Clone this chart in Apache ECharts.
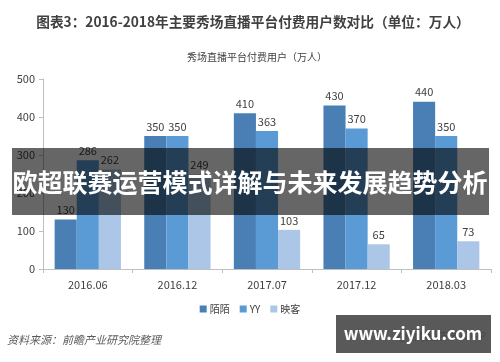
<!DOCTYPE html>
<html><head><meta charset="utf-8">
<script src="https://cdn.jsdelivr.net/npm/echarts@6/dist/echarts.min.js"></script>
<style>html,body{margin:0;padding:0;background:#fff}#c{width:500px;height:362px}</style>
</head><body><div id="c"></div>
<script>
const categories = ['2016.06','2016.12','2017.07','2017.12','2018.03'];
const momo = [130,350,410,430,440];
const yy = [286,350,363,370,350];
const yingke = [262,249,103,65,73];
const seriesNames = ['陌陌','YY','映客'];
const yTicks = [0,100,200,300,400,500];

const chart = echarts.init(document.getElementById('c'));
const font = 'Noto Sans CJK SC, sans-serif';
const lbl = {show:true, position:'top', color:'#404040', fontSize:11, fontFamily:font, distance:4};
chart.setOption({
  animation:false,
  textStyle:{fontFamily:font},
  title:[
    {text:'图表3：2016-2018年主要秀场直播平台付费用户数对比（单位：万人）', left:248, top:10, textAlign:'center',
     textStyle:{fontSize:13.7, fontWeight:'bold', color:'#404040', fontFamily:font}},
    {text:'秀场直播平台付费用户（万人）', left:252, top:47, textAlign:'center',
     textStyle:{fontSize:10, fontWeight:'normal', color:'#404040', fontFamily:font}}
  ],
  legend:{data:seriesNames, bottom:43, left:'center', itemWidth:7, itemHeight:7, itemGap:10,
    icon:'rect', textStyle:{fontSize:10, color:'#404040', fontFamily:font, padding:[0,0,0,-2]}},
  grid:{left:43, right:9, top:79, bottom:93},
  xAxis:{type:'category', data:categories,
    axisLine:{lineStyle:{color:'#bfbfbf'}}, axisTick:{show:true, alignWithLabel:false, length:4, lineStyle:{color:'#bfbfbf'}},
    axisLabel:{color:'#404040', fontSize:11, margin:10, fontFamily:font}},
  yAxis:{type:'value', min:yTicks[0], max:yTicks[yTicks.length-1], interval:100,
    splitLine:{show:false}, axisLine:{show:true, lineStyle:{color:'#bfbfbf'}},
    axisTick:{show:true, length:4, lineStyle:{color:'#bfbfbf'}},
    axisLabel:{color:'#404040', fontSize:11, margin:8, fontFamily:font}},
  series:[
    {name:seriesNames[0], type:'bar', data:momo, barGap:'0%', barCategoryGap:'26%', itemStyle:{color:'#4a7fb5'}, label:lbl},
    {name:seriesNames[1], type:'bar', data:yy, barGap:'0%', barCategoryGap:'26%', itemStyle:{color:'#5b9bd5'}, label:lbl},
    {name:seriesNames[2], type:'bar', data:yingke, barGap:'0%', barCategoryGap:'26%', itemStyle:{color:'#abc6e6'}, label:lbl}
  ],
  graphic:[
    {type:'text', left:7, top:334, style:{text:'资料来源：前瞻产业研究院整理', fill:'#595959', font:'italic 11px '+font}},
    {type:'text', left:398, top:331, style:{text:'@前瞻经济学人APP', fill:'#808080', font:'10px '+font}},
    {type:'rect', shape:{x:12, y:148, width:477, height:67}, style:{fill:'rgba(0,0,0,0.6)'}, z:100},
    {type:'text', x:250, y:182, z:101, style:{text:'欧超联赛运营模式详解与未来发展趋势分析', fill:'#ffffff',
      font:'bold 25px '+font, textAlign:'center', textVerticalAlign:'middle'}},
    {type:'rect', shape:{x:336, y:315, width:155, height:38}, style:{fill:'rgba(60,60,60,0.85)'}, z:100},
    {type:'text', x:413, y:334, z:101, style:{text:'www.ziyiku.com', fill:'#ffffff',
      font:'bold 17px '+font, textAlign:'center', textVerticalAlign:'middle'}}
  ]
});
</script></body></html>
